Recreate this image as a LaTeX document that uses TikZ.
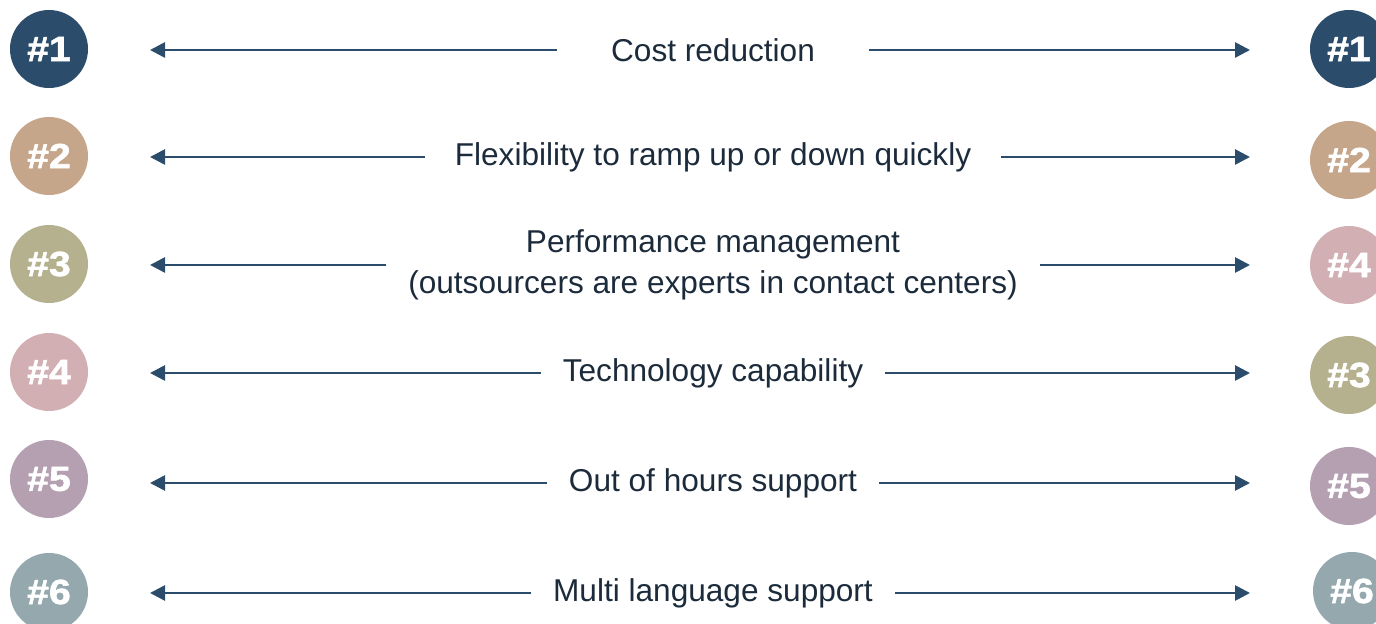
\documentclass[tikz,border=0pt]{standalone}
\usepackage{fontspec}
\setmainfont{Liberation Sans}
\newfontfamily\badgefont[FakeStretch=1.12, FakeBold=1.6]{Liberation Sans}
\usepackage{xcolor}
\usetikzlibrary{arrows.meta, positioning}

\definecolor{navy}{HTML}{2B4C6A}
\definecolor{inkblue}{HTML}{1C2B3B}
\definecolor{badgeA}{HTML}{2B4C6A}
\definecolor{badgeB}{HTML}{C6A68B}
\definecolor{badgeC}{HTML}{B5B18E}
\definecolor{badgeD}{HTML}{D1AFB3}
\definecolor{badgeE}{HTML}{B5A0B2}
\definecolor{badgeF}{HTML}{94A8AE}

\begin{document}
\begin{tikzpicture}[x=0.5pt, y=-0.5pt, outer sep=0pt,
    badge/.style={circle, minimum size=39pt, inner sep=0pt, text=white,
      font=\badgefont\bfseries\fontsize{17.5}{17.5}\selectfont},
    reason/.style={text=inkblue, font=\fontsize{15.8}{20.5}\selectfont,
      align=center, inner xsep=11pt},
    link/.style={draw=navy, line width=1.35pt, -{Triangle[length=7.5pt, width=7.5pt]}}]
    \useasboundingbox (0,0) rectangle (1376,624);

    % Ranking links
    \foreach \n/\y/\c in {1/49/badgeA, 2/156/badgeB, 3/264/badgeC, 4/372/badgeD, 5/479/badgeE, 6/592/badgeF}
      \node[badge, fill=\c] (left\n) at (49,\y) {\#\n};

    % Ranking rechts
    \foreach \n/\x/\y/\c in {1/1349/49/badgeA, 2/1349/160/badgeB, 4/1349/265/badgeD, 3/1349/375/badgeC, 5/1349/486/badgeE, 6/1352/591/badgeF}
      \node[badge, fill=\c] (right\n) at (\x,\y) {\#\n};

    % Gruende
    \node[reason, inner xsep=27pt] (cost) at (713,50) {Cost reduction};
    \node[reason, inner xsep=15pt] (flex) at (713,157) {Flexibility to ramp up or down quickly};
    \node[reason] (perf) at (713,265) {Performance management\\(outsourcers are experts in contact centers)};
    \node[reason] (tech) at (713,373) {Technology capability};
    \node[reason] (hours) at (713,483) {Out of hours support};
    \node[reason] (lang) at (713,593) {Multi language support};

    % Pfeile
    \foreach \r in {cost, flex, perf, tech, hours, lang} {
      \coordinate (\r-l) at (\r.west -| 150,0);
      \coordinate (\r-r) at (\r.east -| 1250,0);
      \draw[link] (\r.west) -- (\r-l);
      \draw[link] (\r.east) -- (\r-r);
    }
\end{tikzpicture}
\end{document}
